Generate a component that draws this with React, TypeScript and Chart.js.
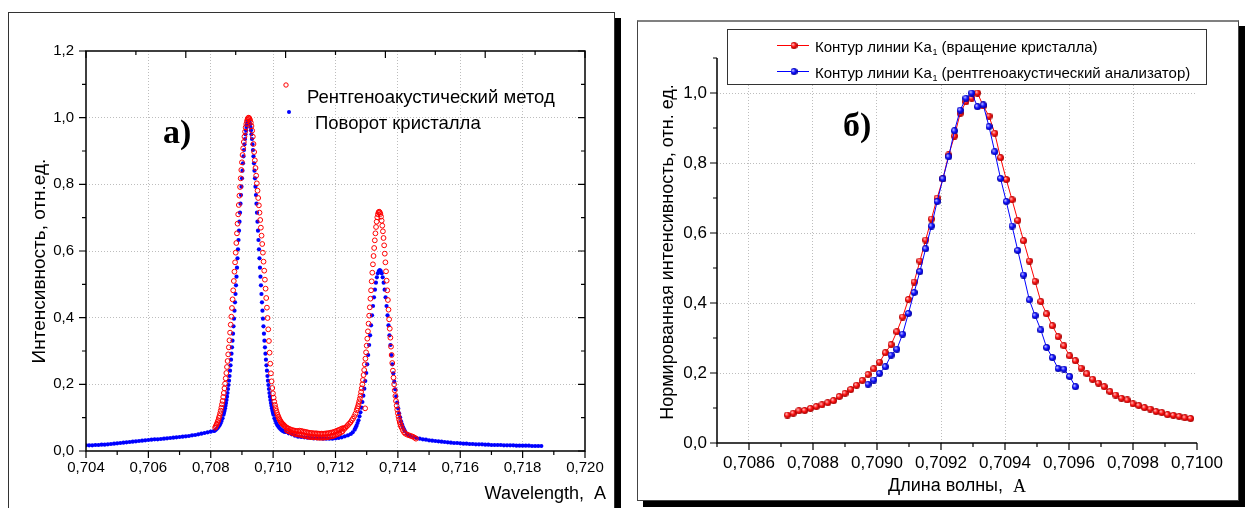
import React, { useEffect, useRef } from "react";
import { Chart, registerables } from "chart.js";

Chart.register(...registerables);

const SANS = '"Liberation Sans", Arial, Helvetica, sans-serif';
const SERIF = '"Liberation Serif", "Times New Roman", serif';

// ================= Panel а) =================
const leftXTicks = [0.704, 0.706, 0.708, 0.71, 0.712, 0.714, 0.716, 0.718, 0.72];
const leftXMinorTicks = [0.705, 0.707, 0.709, 0.711, 0.713, 0.715, 0.717, 0.719];
const leftYTicks = [0, 0.2, 0.4, 0.6, 0.8, 1.0, 1.2];
const leftYMinorTicks = [0.1, 0.3, 0.5, 0.7, 0.9, 1.1];
const leftTopTicks = [0, 1, 2, 3, 4, 5, 6, 7, 8, 9, 10];

// "Рентгеноакустический метод" (red open circles)
const redPeak1Left = [
  [0.70814, 0.07], [0.70816, 0.074], [0.70818, 0.078], [0.7082, 0.082], [0.70822, 0.087], [0.70824, 0.092],
  [0.70826, 0.099], [0.70828, 0.105], [0.7083, 0.113], [0.70832, 0.121], [0.70834, 0.13], [0.70836, 0.14],
  [0.70838, 0.15], [0.7084, 0.162], [0.70842, 0.174], [0.70844, 0.188], [0.70846, 0.202], [0.70848, 0.218],
  [0.7085, 0.234], [0.70852, 0.252], [0.70854, 0.27], [0.70856, 0.29], [0.70858, 0.311], [0.7086, 0.332],
  [0.70862, 0.355], [0.70864, 0.379], [0.70866, 0.403], [0.70868, 0.429], [0.7087, 0.455], [0.70872, 0.482],
  [0.70874, 0.51], [0.70876, 0.538], [0.70878, 0.566], [0.7088, 0.595], [0.70882, 0.624], [0.70884, 0.653],
  [0.70886, 0.682], [0.70888, 0.71], [0.7089, 0.738], [0.70892, 0.766], [0.70894, 0.792], [0.70896, 0.818],
  [0.70898, 0.843], [0.709, 0.866], [0.70902, 0.888], [0.70904, 0.908], [0.70906, 0.927], [0.70908, 0.943],
  [0.7091, 0.958], [0.70912, 0.971], [0.70914, 0.981], [0.70916, 0.989], [0.70918, 0.995], [0.7092, 0.999],
  [0.70922, 1.0],
];
const redPeak1Right = [
  [0.709242, 0.997], [0.709263, 0.992], [0.709285, 0.985], [0.709306, 0.975], [0.709328, 0.961],
  [0.709349, 0.943], [0.709371, 0.921], [0.709392, 0.897], [0.709414, 0.872], [0.709435, 0.849],
  [0.709457, 0.826], [0.709478, 0.803], [0.7095, 0.781], [0.709521, 0.759], [0.709543, 0.737],
  [0.709564, 0.715], [0.709586, 0.693], [0.709607, 0.67], [0.709629, 0.646], [0.70965, 0.621],
  [0.709672, 0.595], [0.709693, 0.568], [0.709715, 0.541], [0.709736, 0.514], [0.709758, 0.487],
  [0.709779, 0.459], [0.709801, 0.43], [0.709822, 0.399], [0.709844, 0.365], [0.709865, 0.33],
  [0.709887, 0.295], [0.709908, 0.262], [0.70993, 0.233], [0.709951, 0.209], [0.709973, 0.189],
  [0.709994, 0.173], [0.710016, 0.16], [0.710037, 0.148], [0.710059, 0.138], [0.71008, 0.129],
  [0.710102, 0.121], [0.710123, 0.114], [0.710145, 0.108], [0.710166, 0.103], [0.710188, 0.098],
  [0.710209, 0.094], [0.710231, 0.09], [0.710252, 0.087], [0.710274, 0.084], [0.710295, 0.082],
  [0.710317, 0.08], [0.710338, 0.078], [0.71036, 0.076], [0.710381, 0.074],
];
const redValley = [
  [0.71042, 0.071], [0.71044, 0.062], [0.71046, 0.069], [0.71048, 0.06], [0.7105, 0.067], [0.71052, 0.058],
  [0.71055, 0.065], [0.71057, 0.056], [0.7106, 0.063], [0.71062, 0.054], [0.71065, 0.062], [0.71067, 0.052],
  [0.7107, 0.061], [0.71072, 0.051], [0.71075, 0.06], [0.71077, 0.05], [0.7108, 0.06], [0.71082, 0.049],
  [0.71085, 0.061], [0.710875, 0.049], [0.7109, 0.06], [0.710925, 0.047], [0.71095, 0.059], [0.710975, 0.046],
  [0.711, 0.058], [0.711025, 0.045], [0.71105, 0.057], [0.711075, 0.044], [0.7111, 0.056], [0.711125, 0.043],
  [0.71115, 0.055], [0.711175, 0.042], [0.7112, 0.054], [0.711225, 0.042], [0.71125, 0.054], [0.711275, 0.041],
  [0.7113, 0.053], [0.711325, 0.041], [0.71135, 0.053], [0.711375, 0.041], [0.7114, 0.053], [0.711425, 0.04],
  [0.71145, 0.052], [0.711475, 0.04], [0.7115, 0.052], [0.711525, 0.04], [0.71155, 0.052], [0.711575, 0.04],
  [0.7116, 0.052], [0.711625, 0.04], [0.71165, 0.052], [0.711675, 0.041], [0.7117, 0.053], [0.711725, 0.041],
  [0.71175, 0.053], [0.711775, 0.042], [0.7118, 0.054], [0.711825, 0.043], [0.71185, 0.055], [0.711875, 0.044],
  [0.7119, 0.056], [0.711925, 0.045], [0.71195, 0.057], [0.711975, 0.047], [0.712, 0.059], [0.712025, 0.049],
  [0.71205, 0.061], [0.712075, 0.051], [0.7121, 0.063], [0.712125, 0.053], [0.71215, 0.065], [0.712175, 0.056],
  [0.7122, 0.067], [0.712225, 0.059], [0.71225, 0.069],
];
const redPeak2Left = [
  [0.71228, 0.066], [0.71232, 0.07], [0.71236, 0.074], [0.7124, 0.078], [0.71244, 0.082], [0.71248, 0.086],
  [0.71252, 0.092], [0.71256, 0.097], [0.7126, 0.104], [0.71264, 0.112], [0.71268, 0.122], [0.7127, 0.128],
  [0.71272, 0.134], [0.71274, 0.141], [0.71276, 0.149], [0.71278, 0.157], [0.7128, 0.166], [0.71282, 0.177],
  [0.71284, 0.188], [0.71286, 0.2], [0.71288, 0.213], [0.7129, 0.228], [0.71292, 0.243], [0.71294, 0.26],
  [0.71296, 0.277], [0.71298, 0.296], [0.713, 0.316], [0.71302, 0.337], [0.71304, 0.359], [0.71306, 0.382],
  [0.71308, 0.406], [0.7131, 0.431], [0.71312, 0.457], [0.71314, 0.482], [0.71316, 0.509], [0.71318, 0.535],
  [0.7132, 0.56], [0.71322, 0.585], [0.71324, 0.609], [0.71326, 0.632], [0.71328, 0.653], [0.7133, 0.672],
  [0.71332, 0.688], [0.71334, 0.701], [0.71336, 0.71], [0.71338, 0.716], [0.7134, 0.718],
];
const redPeak2Right = [
  [0.71342, 0.716], [0.71344, 0.711], [0.71346, 0.703], [0.71348, 0.691], [0.7135, 0.676], [0.71352, 0.659],
  [0.71354, 0.639], [0.71356, 0.617], [0.71358, 0.592], [0.7136, 0.566], [0.71362, 0.539], [0.71364, 0.511],
  [0.71366, 0.482], [0.71368, 0.453], [0.7137, 0.424], [0.71372, 0.395], [0.71374, 0.367], [0.71376, 0.34],
  [0.71378, 0.313], [0.7138, 0.288], [0.71382, 0.264], [0.71384, 0.241], [0.71386, 0.22], [0.71388, 0.2],
  [0.7139, 0.182], [0.71392, 0.165], [0.71394, 0.15], [0.71396, 0.136], [0.71398, 0.124], [0.714, 0.113],
  [0.71402, 0.103], [0.71404, 0.094], [0.71406, 0.087], [0.71408, 0.08], [0.7141, 0.075], [0.71412, 0.07],
  [0.71416, 0.062], [0.7142, 0.056], [0.71424, 0.052], [0.7143, 0.049], [0.71436, 0.047], [0.71442, 0.045],
  [0.71448, 0.043], [0.71454, 0.04], [0.71458, 0.037],
];
const redOutliers = [[0.71295, 0.128]];

// "Поворот кристалла" (blue dots)
const blueTailLeft = [
  [0.704, 0.017], [0.7041, 0.017], [0.7042, 0.017], [0.7043, 0.018], [0.7044, 0.018], [0.7045, 0.019],
  [0.7046, 0.019], [0.7047, 0.02], [0.7048, 0.021], [0.7049, 0.022], [0.705, 0.023], [0.7051, 0.024],
  [0.7052, 0.025], [0.7053, 0.026], [0.7054, 0.027], [0.7055, 0.028], [0.7056, 0.029], [0.7057, 0.03],
  [0.7058, 0.031], [0.7059, 0.032], [0.706, 0.033], [0.7061, 0.034], [0.7062, 0.035], [0.7063, 0.035],
  [0.7064, 0.036], [0.7065, 0.037], [0.7066, 0.038], [0.7067, 0.039], [0.7068, 0.04], [0.7069, 0.041],
  [0.707, 0.042], [0.7071, 0.043], [0.7072, 0.044], [0.7073, 0.045], [0.7074, 0.047], [0.7075, 0.048],
  [0.7076, 0.05], [0.7077, 0.052], [0.7078, 0.054], [0.7079, 0.056], [0.708, 0.058], [0.7081, 0.06],
];
const bluePeak1 = [
  [0.708122, 0.061], [0.708154, 0.063], [0.708186, 0.066], [0.708218, 0.069], [0.70825, 0.073],
  [0.708282, 0.077], [0.708314, 0.083], [0.708346, 0.09], [0.708378, 0.098], [0.70841, 0.109],
  [0.708426, 0.115], [0.708442, 0.121], [0.708458, 0.128], [0.708474, 0.136], [0.70849, 0.144],
  [0.708506, 0.153], [0.708522, 0.163], [0.708538, 0.174], [0.708554, 0.186], [0.70857, 0.198],
  [0.708586, 0.211], [0.708602, 0.225], [0.708618, 0.241], [0.708634, 0.257], [0.70865, 0.274],
  [0.708666, 0.292], [0.708682, 0.311], [0.708698, 0.331], [0.708714, 0.352], [0.70873, 0.374],
  [0.708746, 0.397], [0.708762, 0.421], [0.708778, 0.446], [0.708794, 0.471], [0.70881, 0.497],
  [0.708826, 0.523], [0.708842, 0.55], [0.708858, 0.578], [0.708874, 0.605], [0.70889, 0.633],
  [0.708906, 0.661], [0.708922, 0.688], [0.708938, 0.715], [0.708954, 0.742], [0.70897, 0.768],
  [0.708986, 0.793], [0.709002, 0.818], [0.709018, 0.841], [0.709034, 0.863], [0.70905, 0.884],
  [0.709066, 0.903], [0.709082, 0.92], [0.709098, 0.936], [0.709114, 0.95], [0.70913, 0.962],
  [0.709146, 0.972], [0.709162, 0.98], [0.709178, 0.985], [0.709194, 0.989], [0.70921, 0.99],
  [0.709226, 0.989], [0.709242, 0.985], [0.709258, 0.98], [0.709274, 0.972], [0.70929, 0.962],
  [0.709306, 0.95], [0.709322, 0.936], [0.709338, 0.92], [0.709354, 0.903], [0.70937, 0.884],
  [0.709386, 0.863], [0.709402, 0.841], [0.709418, 0.818], [0.709434, 0.793], [0.70945, 0.768],
  [0.709466, 0.742], [0.709482, 0.715], [0.709498, 0.688], [0.709514, 0.661], [0.70953, 0.633],
  [0.709546, 0.605], [0.709562, 0.578], [0.709578, 0.55], [0.709594, 0.523], [0.70961, 0.497],
  [0.709626, 0.471], [0.709642, 0.446], [0.709658, 0.421], [0.709674, 0.397], [0.70969, 0.374],
  [0.709706, 0.352], [0.709722, 0.331], [0.709738, 0.311], [0.709754, 0.292], [0.70977, 0.274],
  [0.709786, 0.257], [0.709802, 0.241], [0.709818, 0.225], [0.709834, 0.211], [0.70985, 0.198],
  [0.709866, 0.186], [0.709882, 0.174], [0.709898, 0.163], [0.709914, 0.153], [0.70993, 0.144],
  [0.709946, 0.136], [0.709962, 0.128], [0.709978, 0.121], [0.709994, 0.115], [0.71001, 0.109],
  [0.710042, 0.098], [0.710074, 0.09], [0.710106, 0.083], [0.710138, 0.077], [0.71017, 0.073],
  [0.710202, 0.069], [0.710234, 0.066], [0.710266, 0.063], [0.710298, 0.061], [0.71033, 0.059],
  [0.710362, 0.058],
];
const blueValley = [
  [0.7104, 0.057], [0.7105, 0.053], [0.7106, 0.05], [0.7107, 0.046], [0.7108, 0.043], [0.7109, 0.042],
  [0.711, 0.041], [0.7111, 0.04], [0.7112, 0.039], [0.7113, 0.038], [0.7114, 0.038], [0.7115, 0.038],
  [0.7116, 0.037], [0.7117, 0.037], [0.7118, 0.037], [0.7119, 0.037], [0.712, 0.038], [0.7121, 0.039],
  [0.7122, 0.041], [0.7123, 0.044], [0.7124, 0.047],
];
const bluePeak2 = [
  [0.71249, 0.051], [0.712552, 0.056], [0.712614, 0.064], [0.712645, 0.07], [0.712676, 0.076],
  [0.712707, 0.084], [0.712738, 0.092], [0.712769, 0.104], [0.7128, 0.116], [0.712831, 0.13],
  [0.712862, 0.147], [0.712893, 0.166], [0.712924, 0.187], [0.712955, 0.21], [0.712986, 0.234],
  [0.713017, 0.26], [0.713048, 0.288], [0.713079, 0.318], [0.71311, 0.347], [0.713141, 0.377],
  [0.713172, 0.407], [0.713203, 0.435], [0.713234, 0.461], [0.713265, 0.484], [0.713296, 0.505],
  [0.713327, 0.521], [0.713358, 0.533], [0.713389, 0.54], [0.71342, 0.543], [0.713451, 0.54],
  [0.713482, 0.533], [0.713513, 0.521], [0.713544, 0.505], [0.713575, 0.484], [0.713606, 0.461],
  [0.713637, 0.435], [0.713668, 0.407], [0.713699, 0.377], [0.71373, 0.347], [0.713761, 0.318],
  [0.713792, 0.288], [0.713823, 0.26], [0.713854, 0.233], [0.713885, 0.208], [0.713916, 0.185],
  [0.713947, 0.164], [0.713978, 0.145], [0.714009, 0.128], [0.71404, 0.113], [0.714071, 0.101],
  [0.714102, 0.089], [0.714133, 0.08], [0.714164, 0.072], [0.714195, 0.066], [0.714226, 0.06],
  [0.714288, 0.052], [0.71435, 0.047],
];
const blueTailRight = [
  [0.7144, 0.045], [0.7145, 0.042], [0.7146, 0.039], [0.7147, 0.037], [0.7148, 0.035], [0.7149, 0.034],
  [0.715, 0.032], [0.7151, 0.031], [0.7152, 0.03], [0.7153, 0.029], [0.7154, 0.028], [0.7155, 0.027],
  [0.7156, 0.026], [0.7157, 0.025], [0.7158, 0.024], [0.7159, 0.024], [0.716, 0.023], [0.7161, 0.022],
  [0.7162, 0.022], [0.7163, 0.021], [0.7164, 0.021], [0.7165, 0.02], [0.7166, 0.02], [0.7167, 0.02],
  [0.7168, 0.019], [0.7169, 0.019], [0.717, 0.018], [0.7171, 0.018], [0.7172, 0.018], [0.7173, 0.018],
  [0.7174, 0.017], [0.7175, 0.017], [0.7176, 0.017], [0.7177, 0.017], [0.7178, 0.016], [0.7179, 0.016],
  [0.718, 0.016], [0.7181, 0.016], [0.7182, 0.016], [0.7183, 0.015], [0.7184, 0.015], [0.7185, 0.015],
  [0.7186, 0.015],
];

// ================= Panel б) =================
const rightXTicks = [0.7086, 0.7088, 0.709, 0.7092, 0.7094, 0.7096, 0.7098, 0.71];
const rightXMinorTicks = [0.7085, 0.7087, 0.7089, 0.7091, 0.7093, 0.7095, 0.7097, 0.7099];
const rightYTicks = [0, 0.2, 0.4, 0.6, 0.8, 1.0];
const rightYMinorTicks = [0.1, 0.3, 0.5, 0.7, 0.9, 1.1];

const rotationX = [
  0.70872, 0.708738, 0.708756, 0.708774, 0.708792, 0.70881, 0.708828, 0.708846, 0.708864, 0.708882,
  0.7089, 0.708918, 0.708936, 0.708954, 0.708972, 0.70899, 0.709008, 0.709026, 0.709044, 0.709062,
  0.70908, 0.709098, 0.709116, 0.709134, 0.709152, 0.70917, 0.709188, 0.709206, 0.709224, 0.709242,
  0.70926, 0.709278, 0.709296, 0.709314, 0.709332, 0.70935, 0.709368, 0.709386, 0.709404, 0.709422,
  0.70944, 0.709458, 0.709476, 0.709494, 0.709512, 0.70953, 0.709548, 0.709566, 0.709584, 0.709602,
  0.70962, 0.709638, 0.709656, 0.709674, 0.709692, 0.70971, 0.709728, 0.709746, 0.709764, 0.709782,
  0.7098, 0.709818, 0.709836, 0.709854, 0.709872, 0.70989, 0.709908, 0.709926, 0.709944, 0.709962,
  0.70998,
];
const rotationY = [
  0.08, 0.085, 0.092, 0.093, 0.099, 0.104, 0.109, 0.115, 0.121, 0.133,
  0.142, 0.153, 0.165, 0.179, 0.196, 0.212, 0.231, 0.258, 0.281, 0.318,
  0.36, 0.41, 0.46, 0.52, 0.58, 0.64, 0.7, 0.755, 0.823, 0.877,
  0.942, 0.975, 0.985, 1.0, 0.963, 0.934, 0.885, 0.815, 0.753, 0.695,
  0.636, 0.578, 0.52, 0.462, 0.404, 0.369, 0.335, 0.304, 0.278, 0.249,
  0.235, 0.214, 0.198, 0.182, 0.171, 0.161, 0.147, 0.137, 0.128, 0.123,
  0.112, 0.107, 0.101, 0.097, 0.09, 0.087, 0.081, 0.079, 0.076, 0.072,
  0.07,
];
const analyzerX = [
  0.708972, 0.70899, 0.709008, 0.709026, 0.709044, 0.709062, 0.70908, 0.709098, 0.709116, 0.709134,
  0.709152, 0.70917, 0.709188, 0.709206, 0.709224, 0.709242, 0.70926, 0.709278, 0.709296, 0.709314,
  0.709332, 0.70935, 0.709368, 0.709386, 0.709404, 0.709422, 0.70944, 0.709458, 0.709476, 0.709494,
  0.709512, 0.70953, 0.709548, 0.709566, 0.709584, 0.709602, 0.70962,
];
const analyzerY = [
  0.168, 0.18, 0.199, 0.218, 0.251, 0.268, 0.311, 0.37, 0.43, 0.49,
  0.555, 0.62, 0.69, 0.755, 0.818, 0.892, 0.951, 0.985, 1.0, 0.961,
  0.966, 0.904, 0.832, 0.756, 0.69, 0.62, 0.55, 0.48, 0.409, 0.364,
  0.323, 0.273, 0.244, 0.213, 0.211, 0.19, 0.161,
];

const toPts = (arr) => arr.map((p) => ({ x: p[0], y: p[1] }));
const zipPts = (xs, ys) => xs.map((x, i) => ({ x, y: ys[i] }));
const comma = (d) => (v) => Number(v).toFixed(d).replace(".", ",");

function makeBall(light, mid, dark, d) {
  const c = document.createElement("canvas");
  c.width = d;
  c.height = d;
  const g = c.getContext("2d");
  const r = d / 2;
  const grad = g.createRadialGradient(r * 0.65, r * 0.65, r * 0.1, r, r, r);
  grad.addColorStop(0, light);
  grad.addColorStop(0.5, mid);
  grad.addColorStop(1, dark);
  g.fillStyle = grad;
  g.beginPath();
  g.arc(r, r, r, 0, Math.PI * 2);
  g.fill();
  return c;
}

const leftDecor = {
  id: "leftDecor",
  afterDraw(chart) {
    const { ctx, chartArea: a } = chart;
    const sx = chart.scales.x;
    const sy = chart.scales.y;
    const st = chart.scales.xTop;
    ctx.save();
    ctx.strokeStyle = "#000";
    ctx.lineWidth = 1.5;
    ctx.strokeRect(a.left, a.top, a.right - a.left, a.bottom - a.top);
    ctx.lineWidth = 1.2;
    ctx.beginPath();
    const seg = (x1, y1, x2, y2) => {
      ctx.moveTo(x1, y1);
      ctx.lineTo(x2, y2);
    };
    leftXTicks.forEach((v) => {
      const p = sx.getPixelForValue(v);
      seg(p, a.bottom, p, a.bottom + 7);
    });
    leftXMinorTicks.forEach((v) => {
      const p = sx.getPixelForValue(v);
      seg(p, a.bottom, p, a.bottom + 4);
    });
    leftYTicks.forEach((v) => {
      const p = sy.getPixelForValue(v);
      seg(a.left, p, a.left - 7, p);
      seg(a.right, p, a.right - 7, p);
    });
    leftYMinorTicks.forEach((v) => {
      const p = sy.getPixelForValue(v);
      seg(a.left, p, a.left - 4, p);
      seg(a.right, p, a.right - 4, p);
    });
    leftTopTicks.forEach((v) => {
      const p = st.getPixelForValue(v);
      seg(p, a.top, p, a.top + (v % 2 === 0 ? 7 : 4));
    });
    ctx.stroke();

    // legend
    ctx.strokeStyle = "#ff0000";
    ctx.lineWidth = 1;
    ctx.beginPath();
    ctx.arc(286, 85, 2.2, 0, Math.PI * 2);
    ctx.stroke();
    ctx.fillStyle = "#0000ff";
    ctx.beginPath();
    ctx.arc(289, 112, 2, 0, Math.PI * 2);
    ctx.fill();
    ctx.fillStyle = "#000";
    ctx.font = `18.5px ${SANS}`;
    ctx.textAlign = "left";
    ctx.textBaseline = "alphabetic";
    ctx.fillText("Рентгеноакустический метод", 307, 103);
    ctx.fillText("Поворот кристалла", 315, 129);

    // panel label
    ctx.font = `bold 34px ${SERIF}`;
    ctx.fillText("а)", 163, 143);

    // axis titles
    ctx.font = `18px ${SANS}`;
    ctx.textAlign = "right";
    ctx.textBaseline = "middle";
    ctx.fillText("Wavelength,  A", 606, 494);
    ctx.font = `19px ${SANS}`;
    ctx.save();
    ctx.translate(40, 261);
    ctx.rotate(-Math.PI / 2);
    ctx.textAlign = "center";
    ctx.fillText("Интенсивность, отн.ед.", 0, 0);
    ctx.restore();
    ctx.restore();
  },
};

const rightDecor = {
  id: "rightDecor",
  afterDraw(chart) {
    const { ctx, chartArea: a } = chart;
    const sx = chart.scales.x;
    const sy = chart.scales.y;
    ctx.save();
    ctx.strokeStyle = "#000";
    ctx.lineWidth = 1.5;
    ctx.beginPath();
    ctx.moveTo(a.left, a.top);
    ctx.lineTo(a.left, a.bottom);
    ctx.lineTo(a.right, a.bottom);
    ctx.stroke();
    ctx.lineWidth = 1.2;
    ctx.beginPath();
    const seg = (x1, y1, x2, y2) => {
      ctx.moveTo(x1, y1);
      ctx.lineTo(x2, y2);
    };
    rightXTicks.forEach((v) => {
      const p = sx.getPixelForValue(v);
      seg(p, a.bottom, p, a.bottom + 7);
    });
    rightXMinorTicks.forEach((v) => {
      const p = sx.getPixelForValue(v);
      seg(p, a.bottom, p, a.bottom + 4);
    });
    rightYTicks.forEach((v) => {
      const p = sy.getPixelForValue(v);
      seg(a.left, p, a.left - 7, p);
    });
    rightYMinorTicks.forEach((v) => {
      const p = sy.getPixelForValue(v);
      seg(a.left, p, a.left - 4, p);
    });
    ctx.stroke();

    // legend box
    const bx = 102, by = 29, bw = 479, bh = 55;
    ctx.fillStyle = "#fff";
    ctx.fillRect(bx, by, bw, bh);
    ctx.strokeStyle = "#333";
    ctx.lineWidth = 1;
    ctx.strokeRect(bx + 0.5, by + 0.5, bw, bh);
    const entries = [
      { y: 45, color: "#ff0000", ball: chart.$redBall, tail: " (вращение кристалла)" },
      { y: 71, color: "#0000ff", ball: chart.$blueBall, tail: " (рентгеноакустический анализатор)" },
    ];
    entries.forEach((e) => {
      ctx.strokeStyle = e.color;
      ctx.lineWidth = 1;
      ctx.beginPath();
      ctx.moveTo(152, e.y + 0.5);
      ctx.lineTo(184, e.y + 0.5);
      ctx.stroke();
      if (e.ball) ctx.drawImage(e.ball, 169 - 3.5, e.y - 3);
      ctx.fillStyle = "#000";
      ctx.textAlign = "left";
      ctx.textBaseline = "alphabetic";
      ctx.font = `15px ${SANS}`;
      const base = e.y + 6.5;
      const t1 = "Контур линии Ka";
      ctx.fillText(t1, 190, base);
      let xx = 190 + ctx.measureText(t1).width;
      ctx.font = `9px ${SANS}`;
      ctx.fillText("1", xx + 0.5, base + 3);
      xx += ctx.measureText("1").width + 0.5;
      ctx.font = `15px ${SANS}`;
      ctx.fillText(e.tail, xx, base);
    });

    // panel label
    ctx.fillStyle = "#000";
    ctx.font = `bold 34px ${SERIF}`;
    ctx.textAlign = "left";
    ctx.fillText("б)", 218, 136);

    // axis titles
    ctx.font = `18px ${SANS}`;
    ctx.textBaseline = "middle";
    const t1 = "Длина волны,  ";
    const w1 = ctx.measureText(t1).width;
    ctx.font = `18px ${SERIF}`;
    const w2 = ctx.measureText("A").width;
    const cx = (a.left + a.right) / 2;
    const start = cx - (w1 + w2) / 2;
    ctx.font = `18px ${SANS}`;
    ctx.fillText(t1, start, 486);
    ctx.font = `18px ${SERIF}`;
    ctx.fillText("A", start + w1, 487);
    ctx.font = `18px ${SANS}`;
    ctx.save();
    ctx.translate(43, 252);
    ctx.rotate(-Math.PI / 2);
    ctx.textAlign = "center";
    ctx.fillText("Нормированная интенсивность, отн. ед.", 0, 0);
    ctx.restore();
    ctx.restore();
  },
};

const GRID = "#bdbdbd";

function leftConfig() {
  return {
    type: "scatter",
    data: {
      datasets: [
        {
          label: "Рентгеноакустический метод",
          data: toPts([...redPeak1Left, ...redPeak1Right, ...redValley, ...redPeak2Left, ...redPeak2Right, ...redOutliers]),
          pointStyle: "circle",
          pointRadius: 2.4,
          pointBorderWidth: 1,
          pointBorderColor: "#ff0000",
          pointBackgroundColor: "rgba(255,255,255,0)",
          order: 0,
        },
        {
          label: "Поворот кристалла",
          data: toPts([...blueTailLeft, ...bluePeak1, ...blueValley, ...bluePeak2, ...blueTailRight]),
          pointStyle: "circle",
          pointRadius: 2.1,
          pointBorderWidth: 0,
          pointBackgroundColor: "#0000ff",
          order: 1,
        },
      ],
    },
    options: {
      responsive: false,
      animation: false,
      devicePixelRatio: 1,
      events: [],
      layout: { padding: { left: 0, top: 51, right: 40, bottom: 0 } },
      plugins: { legend: { display: false }, tooltip: { enabled: false } },
      scales: {
        x: {
          type: "linear",
          position: "bottom",
          min: 0.704,
          max: 0.72,
          afterBuildTicks: (s) => {
            s.ticks = leftXTicks.map((v) => ({ value: v }));
          },
          afterFit: (s) => {
            s.height = 57;
          },
          ticks: { callback: comma(3), autoSkip: false, maxRotation: 0, padding: 8, color: "#000", font: { family: SANS, size: 15 } },
          grid: {
            drawTicks: false,
            lineWidth: 1,
            color: (c) => (c.tick && c.tick.value > 0.7041 && c.tick.value < 0.7199 ? GRID : "rgba(0,0,0,0)"),
          },
          border: { display: false, dash: [1, 2] },
        },
        xTop: { type: "linear", position: "top", min: 0, max: 10, display: false },
        y: {
          type: "linear",
          position: "left",
          min: 0,
          max: 1.2,
          afterBuildTicks: (s) => {
            s.ticks = leftYTicks.map((v) => ({ value: v }));
          },
          afterFit: (s) => {
            s.width = 86;
          },
          ticks: { callback: comma(1), padding: 12, color: "#000", font: { family: SANS, size: 15 } },
          grid: {
            drawTicks: false,
            lineWidth: 1,
            color: (c) => (c.tick && c.tick.value > 0.01 && c.tick.value < 1.19 ? GRID : "rgba(0,0,0,0)"),
          },
          border: { display: false, dash: [1, 2] },
        },
      },
    },
    plugins: [leftDecor],
  };
}

function rightConfig(redBall, blueBall) {
  return {
    type: "scatter",
    data: {
      datasets: [
        {
          label: "Контур линии Ka1 (вращение кристалла)",
          data: zipPts(rotationX, rotationY),
          showLine: true,
          borderColor: "#ff0000",
          borderWidth: 1,
          pointStyle: redBall,
          pointRadius: 3.5,
          order: 1,
        },
        {
          label: "Контур линии Ka1 (рентгеноакустический анализатор)",
          data: zipPts(analyzerX, analyzerY),
          showLine: true,
          borderColor: "#0000ff",
          borderWidth: 1,
          pointStyle: blueBall,
          pointRadius: 3.5,
          order: 0,
        },
      ],
    },
    options: {
      responsive: false,
      animation: false,
      devicePixelRatio: 1,
      events: [],
      layout: { padding: { left: 0, top: 58, right: 48, bottom: 0 } },
      plugins: { legend: { display: false }, tooltip: { enabled: false } },
      scales: {
        x: {
          type: "linear",
          position: "bottom",
          min: 0.7085,
          max: 0.71,
          afterBuildTicks: (s) => {
            s.ticks = rightXTicks.map((v) => ({ value: v }));
          },
          afterFit: (s) => {
            s.height = 65;
          },
          ticks: { callback: comma(4), autoSkip: false, maxRotation: 0, padding: 10, color: "#000", font: { family: SANS, size: 17 } },
          grid: {
            drawTicks: false,
            lineWidth: 1,
            color: (c) => (c.tick && c.tick.value < 0.70995 ? GRID : "rgba(0,0,0,0)"),
          },
          border: { display: false, dash: [1, 2] },
        },
        y: {
          type: "linear",
          position: "left",
          min: 0,
          max: 1.1,
          afterBuildTicks: (s) => {
            s.ticks = rightYTicks.map((v) => ({ value: v }));
          },
          afterFit: (s) => {
            s.width = 92;
          },
          ticks: { callback: comma(1), padding: 10, color: "#000", font: { family: SANS, size: 17 } },
          grid: {
            drawTicks: false,
            lineWidth: 1,
            color: (c) => (c.tick && c.tick.value > 0.01 ? GRID : "rgba(0,0,0,0)"),
          },
          border: { display: false, dash: [1, 2] },
        },
      },
    },
    plugins: [rightDecor],
  };
}

export default function App() {
  const leftRef = useRef(null);
  const rightRef = useRef(null);

  useEffect(() => {
    const redBall = makeBall("#ffc0c0", "#ff1010", "#a00000", 7);
    const blueBall = makeBall("#c0c0ff", "#1010ff", "#0000a0", 7);
    const lc = new Chart(leftRef.current, leftConfig());
    const rc = new Chart(rightRef.current, rightConfig(redBall, blueBall));
    rc.$redBall = redBall;
    rc.$blueBall = blueBall;
    rc.draw();
    return () => {
      lc.destroy();
      rc.destroy();
    };
  }, []);

  return (
    <div style={{ position: "absolute", left: 0, top: 0, width: 1245, height: 508, overflow: "hidden", background: "#fff" }}>
      <div
        style={{
          position: "absolute",
          left: 8,
          top: 12,
          width: 607,
          height: 560,
          boxSizing: "border-box",
          border: "1px solid #333",
          boxShadow: "6px 6px 0 #000",
        }}
      />
      <div
        style={{
          position: "absolute",
          left: 637,
          top: 20,
          width: 602,
          height: 481,
          boxSizing: "border-box",
          border: "1px solid #444",
          borderTop: "2px solid #808080",
          boxShadow: "6px 6px 0 #000",
        }}
      />
      <canvas ref={leftRef} width={625} height={508} style={{ position: "absolute", left: 0, top: 0, width: 625, height: 508 }} />
      <canvas ref={rightRef} width={620} height={508} style={{ position: "absolute", left: 625, top: 0, width: 620, height: 508 }} />
    </div>
  );
}
